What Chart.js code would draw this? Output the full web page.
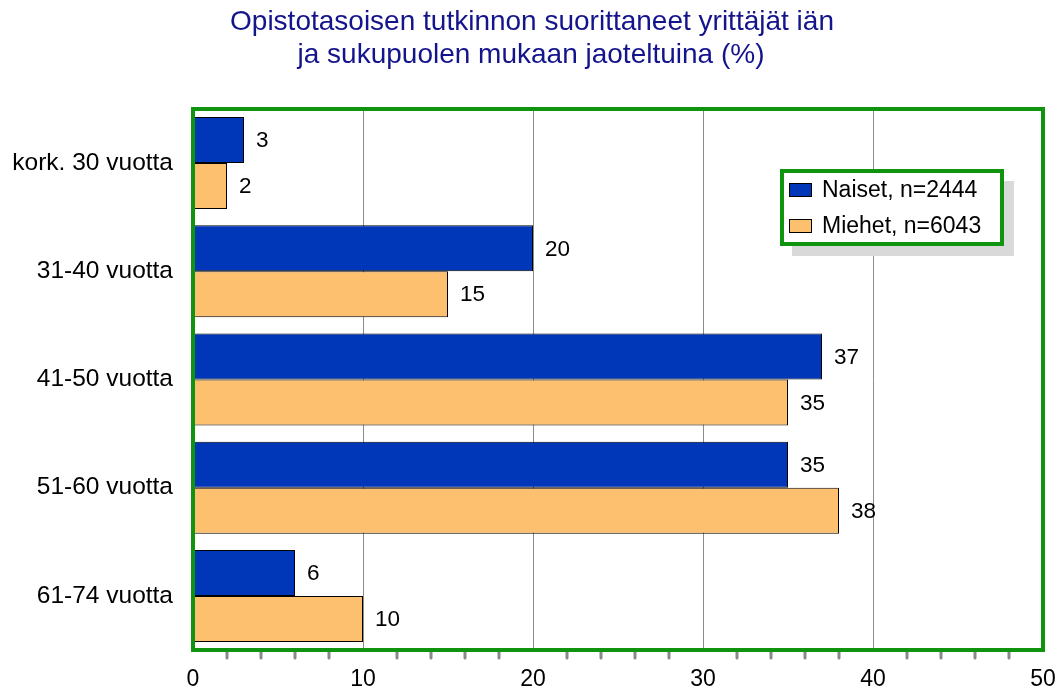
<!DOCTYPE html>
<html>
<head>
<meta charset="utf-8">
<script src="https://cdn.jsdelivr.net/npm/chart.js@4"></script>
<style>
  html, body { margin: 0; padding: 0; background: #ffffff; }
  #wrap { width: 1061px; height: 693px; position: relative; }
</style>
</head>
<body>
<div id="wrap"><canvas id="c" width="1061" height="693"></canvas></div>
<script>
const titleLines = ['Opistotasoisen tutkinnon suorittaneet yrittäjät iän', 'ja sukupuolen mukaan jaoteltuina (%)'];
const categories = ['kork. 30 vuotta', '31-40 vuotta', '41-50 vuotta', '51-60 vuotta', '61-74 vuotta'];
const seriesNames = ['Naiset, n=2444', 'Miehet, n=6043'];
const naiset = [3, 20, 37, 35, 6];
const miehet = [2, 15, 35, 38, 10];
const xTicks = [0, 10, 20, 30, 40, 50];

const GREEN = '#109410';
const FONT = "'Liberation Sans', Arial, sans-serif";

const titlePlugin = {
  id: 'customTitle',
  afterDraw(chart) {
    const ctx = chart.ctx;
    ctx.save();
    ctx.fillStyle = '#14148c';
    ctx.font = '28px ' + FONT;
    ctx.textAlign = 'center';
    ctx.textBaseline = 'alphabetic';
    ctx.fillText(titleLines[0], 532, 30);
    ctx.fillText(titleLines[1], 531, 63);
    ctx.restore();
  }
};

const framePlugin = {
  id: 'frame',
  afterDatasetsDraw(chart) {
    const ctx = chart.ctx;
    const a = chart.chartArea;
    const xs = chart.scales.x;
    ctx.save();
    // minor ticks
    ctx.strokeStyle = '#8a8a8a';
    ctx.lineWidth = 3;
    ctx.lineCap = 'round';
    for (let v = 2; v < 50; v += 2) {
      if (v % 10 === 0) continue;
      const px = xs.getPixelForValue(v);
      ctx.beginPath();
      ctx.moveTo(px, a.bottom + 2);
      ctx.lineTo(px, a.bottom + 8);
      ctx.stroke();
    }
    // value labels
    ctx.fillStyle = '#000';
    ctx.font = '22.5px ' + FONT;
    ctx.textAlign = 'left';
    ctx.textBaseline = 'middle';
    chart.data.datasets.forEach((ds, i) => {
      const meta = chart.getDatasetMeta(i);
      meta.data.forEach((bar, j) => {
        ctx.fillText(String(ds.data[j]), bar.x + 12, bar.y + 1);
      });
    });
    // frame
    ctx.strokeStyle = GREEN;
    ctx.lineWidth = 4;
    ctx.lineCap = 'square';
    ctx.strokeRect(a.left, a.top, a.right - a.left, a.bottom - a.top);
    ctx.restore();
  },
  afterDraw(chart) {
    // legend
    const ctx = chart.ctx;
    const lx = 781, ly = 170, lw = 222, lh = 75;
    ctx.save();
    ctx.fillStyle = '#d9d9d9';
    ctx.fillRect(lx + 11, ly + 11, lw, lh);
    ctx.fillStyle = '#ffffff';
    ctx.fillRect(lx, ly, lw, lh);
    ctx.strokeStyle = GREEN;
    ctx.lineWidth = 4;
    ctx.strokeRect(lx + 1, ly + 1, lw - 2, lh - 2);
    ctx.font = '23px ' + FONT;
    ctx.textAlign = 'left';
    ctx.textBaseline = 'middle';
    chart.data.datasets.forEach((ds, i) => {
      const y = 190 + i * 36;
      ctx.fillStyle = ds.backgroundColor;
      ctx.fillRect(789.5, y - 6.5, 22, 13);
      ctx.strokeStyle = '#000';
      ctx.lineWidth = 1;
      ctx.strokeRect(789.5, y - 6.5, 22, 13);
      ctx.fillStyle = '#000';
      ctx.fillText(ds.label, 822, y + 1);
    });
    ctx.restore();
  }
};

new Chart(document.getElementById('c'), {
  type: 'bar',
  data: {
    labels: categories,
    datasets: [
      { label: seriesNames[0], data: naiset, backgroundColor: '#0036b8', borderColor: '#000', borderWidth: 1, borderSkipped: false },
      { label: seriesNames[1], data: miehet, backgroundColor: '#fdc06e', borderColor: '#000', borderWidth: 1, borderSkipped: false }
    ]
  },
  options: {
    indexAxis: 'y',
    responsive: false,
    animation: false,
    devicePixelRatio: 1,
    layout: { padding: { top: 109, right: 18, left: 0, bottom: 0 } },
    datasets: { bar: { categoryPercentage: 0.85, barPercentage: 1.0 } },
    plugins: { legend: { display: false }, title: { display: false }, tooltip: { enabled: false } },
    scales: {
      x: {
        min: 0, max: 50,
        afterBuildTicks(scale) { scale.ticks = xTicks.map(v => ({ value: v })); },
        afterFit(scale) { scale.height = 43; scale.paddingLeft = 0; scale.paddingRight = 0; },
        grid: { color: '#8c8c8c', lineWidth: 1, drawTicks: false },
        border: { display: false },
        ticks: { color: '#000', font: { family: FONT, size: 23 }, padding: 16, maxRotation: 0 }
      },
      y: {
        afterFit(scale) { scale.width = 193; scale.paddingTop = 0; scale.paddingBottom = 0; },
        grid: { display: false, drawTicks: false },
        border: { display: false },
        ticks: { color: '#000', font: { family: FONT, size: 24.5 }, padding: 20 }
      }
    }
  },
  plugins: [titlePlugin, framePlugin]
});
</script>
</body>
</html>
